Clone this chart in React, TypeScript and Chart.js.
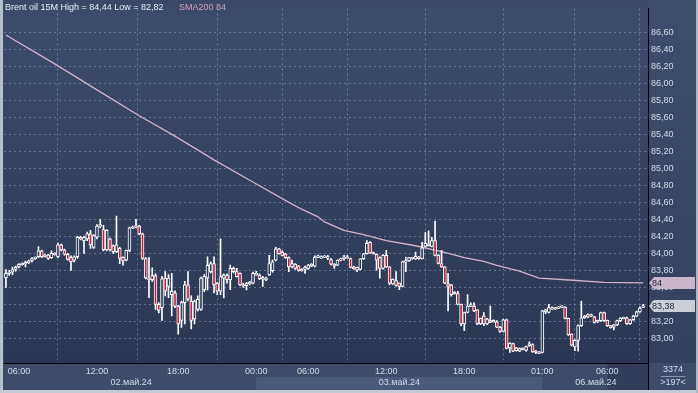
import React, { useEffect, useRef } from "react";
import { Chart, registerables } from "chart.js";

Chart.register(...registerables);

// ---------- data ----------
const instrument = "Brent oil 15M";
const smaName = "SMA200";

const opens = [
  83.71, 83.765, 83.78, 83.81, 83.84, 83.87, 83.88, 83.89, 83.91, 83.94,
  83.96, 84.03, 83.96, 83.98, 83.95, 84.0, 83.96, 84.1, 84.04, 83.99,
  83.955, 83.92, 83.96, 84.19, 84.15, 84.17, 84.23, 84.07, 84.19, 84.32,
  84.28, 84.04, 84.17, 84.09, 84.02, 84.06, 83.955, 83.92, 84.035, 84.3,
  84.31, 84.32, 84.23, 83.94, 83.71, 83.69, 83.74, 83.4, 83.36,
  83.71, 83.61, 83.515, 83.535, 83.38, 83.21, 83.42, 83.63, 83.44, 83.23,
  83.34, 83.34, 83.57, 83.71, 83.785, 83.88, 83.65, 83.555, 83.708, 83.746,
  83.69, 83.823, 83.785, 83.765, 83.63, 83.62, 83.645, 83.65, 83.746, 83.746,
  83.7, 83.69, 83.746, 83.796, 83.92, 84.054, 84.015, 83.996, 83.95, 83.84,
  83.875, 83.85, 83.81, 83.81, 83.823, 83.85, 83.85, 83.958, 83.95, 83.958,
  83.95, 83.927, 83.873, 83.862, 83.919, 83.939, 83.954, 83.939, 83.842, 83.835,
  83.812, 83.939, 83.996, 84.131, 84.008, 83.988, 83.95, 83.823, 83.977, 83.842,
  83.642, 83.681, 83.65, 83.611, 83.9, 83.912, 83.95, 83.935, 83.958, 83.939,
  84.081, 84.112, 84.081, 84.15, 83.977, 83.881, 83.842, 83.642, 83.631, 83.527,
  83.527, 83.4, 83.169, 83.304, 83.381, 83.381, 83.335, 83.169,
  83.265, 83.169, 83.189, 83.208, 83.196, 83.131, 83.081, 83.219, 82.888, 82.938,
  82.854, 82.85, 82.881, 82.858, 82.912, 82.927, 82.85, 82.839, 82.835, 83.312,
  83.304, 83.362, 83.346, 83.354, 83.369, 83.369, 83.235, 83.05, 82.9, 82.977,
  83.15, 83.242, 83.25, 83.277, 83.254, 83.196, 83.208, 83.304, 83.212, 83.15,
  83.131, 83.158, 83.208, 83.239, 83.242, 83.173, 83.219, 83.262, 83.312, 83.365,
];

const highs = [
  83.81, 83.8, 83.84, 83.85, 83.88, 83.89, 83.91, 83.92, 83.95, 83.96,
  84.08, 84.04, 83.99, 83.99, 84.03, 84.01, 84.12, 84.11, 84.05, 84.0,
  83.97, 83.97, 84.2, 84.2, 84.2, 84.25, 84.27, 84.22, 84.34, 84.4,
  84.33, 84.28, 84.18, 84.1, 84.44, 84.07, 83.96, 84.04, 84.31, 84.32,
  84.4, 84.33, 84.24, 83.95, 83.95, 83.83, 83.76, 83.42, 83.73,
  83.785, 83.75, 83.765, 83.56, 83.39, 83.44, 83.67, 83.785, 83.5, 83.45,
  83.5, 83.72, 83.75, 83.96, 83.9, 83.96, 83.66, 84.17, 83.76, 83.76,
  83.862, 83.84, 83.823, 83.77, 83.65, 83.66, 83.67, 83.78, 83.79, 83.76,
  83.73, 83.72, 83.977, 83.92, 84.07, 84.06, 84.03, 84.0, 83.96, 83.92,
  83.88, 83.86, 83.82, 83.85, 83.87, 83.88, 83.97, 83.98, 83.97, 83.975,
  83.977, 83.94, 83.88, 83.925, 83.945, 83.977, 83.977, 83.945, 83.85, 83.84,
  83.94, 84.0, 84.15, 84.14, 84.015, 83.995, 83.96, 83.985, 84.035, 83.845,
  83.7, 83.785, 83.655, 83.91, 83.958, 83.955, 83.955, 84.015, 83.965, 84.131,
  84.246, 84.265, 84.188, 84.381, 83.985, 84.035, 83.845, 83.765, 83.635, 83.55,
  83.554, 83.405, 83.31, 83.515, 83.419, 83.419, 83.34, 83.24,
  83.304, 83.235, 83.381, 83.219, 83.208, 83.142, 83.227, 83.227, 82.95, 82.945,
  82.895, 82.89, 82.89, 82.91, 82.958, 82.935, 82.86, 82.845, 83.33, 83.345,
  83.4, 83.37, 83.365, 83.375, 83.385, 83.375, 83.24, 83.055, 82.985, 83.16,
  83.438, 83.27, 83.29, 83.285, 83.26, 83.215, 83.31, 83.31, 83.215, 83.155,
  83.165, 83.215, 83.245, 83.25, 83.25, 83.225, 83.27, 83.32, 83.37, 83.4,
];

const lows = [
  83.6, 83.74, 83.75, 83.79, 83.83, 83.86, 83.84, 83.88, 83.9, 83.93,
  83.95, 83.95, 83.955, 83.93, 83.94, 83.98, 83.95, 84.03, 83.98, 83.92,
  83.8, 83.9, 83.94, 84.16, 84.0, 84.15, 84.06, 84.06, 84.17, 84.3,
  84.03, 84.03, 84.03, 84.0, 84.01, 83.88, 83.86, 83.91, 84.02, 84.29,
  84.3, 84.22, 83.93, 83.7, 83.48, 83.67, 83.34, 83.3, 83.21,
  83.5, 83.48, 83.265, 83.36, 83.05, 83.13, 83.17, 83.44, 83.11, 83.17,
  83.32, 83.33, 83.55, 83.57, 83.77, 83.535, 83.515, 83.515, 83.477, 83.65,
  83.573, 83.77, 83.72, 83.62, 83.6, 83.57, 83.63, 83.64, 83.74, 83.69,
  83.61, 83.68, 83.74, 83.78, 83.91, 83.99, 83.97, 83.94, 83.785, 83.83,
  83.81, 83.79, 83.79, 83.765, 83.81, 83.845, 83.84, 83.95, 83.94, 83.95,
  83.927, 83.865, 83.823, 83.855, 83.91, 83.919, 83.945, 83.83, 83.81, 83.785,
  83.805, 83.93, 83.99, 84.0, 83.99, 83.804, 83.708, 83.815, 83.835, 83.631,
  83.635, 83.615, 83.573, 83.605, 83.785, 83.905, 83.93, 83.93, 83.93, 83.935,
  84.075, 84.085, 84.075, 83.97, 83.875, 83.835, 83.645, 83.323, 83.496, 83.52,
  83.395, 83.15, 83.092, 83.3, 83.375, 83.315, 83.16, 83.16,
  83.15, 83.16, 83.185, 83.19, 83.125, 83.07, 83.075, 82.875, 82.835, 82.845,
  82.85, 82.845, 82.865, 82.85, 82.905, 82.835, 82.82, 82.82, 82.83, 83.29,
  83.3, 83.34, 83.34, 83.35, 83.36, 83.23, 83.035, 82.91, 82.854, 82.85,
  83.14, 83.235, 83.245, 83.255, 83.18, 83.185, 83.2, 83.2, 83.14, 83.12,
  83.1, 83.15, 83.2, 83.23, 83.165, 83.165, 83.21, 83.255, 83.305, 83.36,
];

const closes = [
  83.765, 83.78, 83.81, 83.84, 83.87, 83.88, 83.89, 83.91, 83.94, 83.955,
  84.03, 83.96, 83.98, 83.94, 84.0, 83.99, 84.1, 84.04, 83.99, 83.93,
  83.9, 83.96, 84.19, 84.17, 84.19, 84.23, 84.1, 84.21, 84.32, 84.34,
  84.04, 84.27, 84.04, 84.02, 84.1, 83.94, 83.91, 84.035, 84.3, 84.31,
  84.32, 84.23, 83.94, 83.71, 83.69, 83.74, 83.4, 83.33, 83.7,
  83.555, 83.71, 83.555, 83.38, 83.17, 83.42, 83.63, 83.46, 83.21, 83.44,
  83.46, 83.71, 83.73, 83.86, 83.88, 83.63, 83.555, 83.727, 83.746, 83.69,
  83.823, 83.785, 83.727, 83.63, 83.62, 83.645, 83.655, 83.765, 83.765, 83.7,
  83.715, 83.71, 83.88, 83.9, 84.054, 83.996, 83.977, 83.95, 83.84, 83.88,
  83.823, 83.8, 83.796, 83.84, 83.862, 83.873, 83.958, 83.965, 83.958, 83.965,
  83.958, 83.873, 83.85, 83.919, 83.939, 83.954, 83.95, 83.835, 83.819, 83.804,
  83.935, 83.996, 84.119, 84.004, 83.996, 83.919, 83.823, 83.977, 83.842, 83.65,
  83.696, 83.623, 83.611, 83.9, 83.912, 83.95, 83.939, 83.966, 83.935, 84.065,
  84.119, 84.092, 84.15, 83.977, 83.881, 83.842, 83.65, 83.611, 83.515, 83.542,
  83.4, 83.169, 83.304, 83.381, 83.389, 83.323, 83.169, 83.235,
  83.169, 83.227, 83.208, 83.196, 83.131, 83.081, 83.219, 82.881, 82.942, 82.85,
  82.888, 82.881, 82.873, 82.904, 82.935, 82.842, 82.835, 82.827, 83.323, 83.335,
  83.362, 83.346, 83.358, 83.369, 83.377, 83.235, 83.042, 82.919, 82.977, 83.15,
  83.242, 83.262, 83.281, 83.265, 83.189, 83.208, 83.304, 83.208, 83.15, 83.127,
  83.158, 83.208, 83.239, 83.242, 83.173, 83.219, 83.262, 83.312, 83.358, 83.381,
];

// SMA200 read at a set of bar positions
const smaIndex = [0, 15, 29, 41, 52, 64, 75, 88, 91, 96, 98, 104, 110, 117, 126, 133, 137, 141, 147, 151, 158, 164, 172, 184, 196];
const smaValues = [86.57, 86.23, 85.9, 85.62, 85.38, 85.1, 84.86, 84.58, 84.52, 84.43, 84.37, 84.27, 84.22, 84.15, 84.09, 84.03, 83.99, 83.95, 83.905, 83.86, 83.79, 83.71, 83.69, 83.66, 83.653];

// time axis
const timeTickIndex = [4, 28, 53, 77, 93, 117, 141, 165, 185];
const timeTickLabels = ["06:00", "12:00", "18:00", "00:00", "06:00", "12:00", "18:00", "01:00", "06:00"];
const dateLabels = ["02.май.24", "03.май.24", "06.май.24"];
const dateIndex = [38.5, 121, 181.5];

// price axis
const priceTicks = [83.0, 83.2, 83.4, 83.6, 83.8, 84.0, 84.2, 84.4, 84.6, 84.8, 85.0, 85.2, 85.4, 85.6, 85.8, 86.0, 86.2, 86.4, 86.6];
const barCountText = "3374";
const visibleBarsText = ">197<";

// ---------- styles ----------
const FONT = '"Liberation Sans", Arial, sans-serif';
const TEXT = "#d3dbe9";
const GRID = "rgba(150,170,210,0.5)";
const RED = "#b8283f";
const HOLLOW = "#2f3c58";
const SMA_COLOR = "#d6b2c8";

const fmt = (v: number) => v.toFixed(2).replace(".", ",");

export default function App() {
  const ref = useRef<HTMLCanvasElement | null>(null);

  useEffect(() => {
    const canvas = ref.current;
    if (!canvas) return;
    const N = closes.length;
    const MIN_BODY = 0.018;
    const bodyData = closes.map((c, i) => {
      let lo = Math.min(opens[i], c);
      let hi = Math.max(opens[i], c);
      if (hi - lo < MIN_BODY) {
        const m = (hi + lo) / 2;
        lo = m - MIN_BODY / 2;
        hi = m + MIN_BODY / 2;
      }
      return { x: i, y: [lo, hi] };
    });
    const bodyFill = closes.map((c, i) => (c >= opens[i] ? HOLLOW : RED));
    const wickData = closes.map((_, i) => ({ x: i, y: [lows[i], highs[i]] }));
    const smaData = smaIndex.map((x, k) => ({ x, y: smaValues[k] }));

    const hi = Math.max(...highs);
    const lo = Math.min(...lows);
    const lastClose = closes[N - 1];
    const lastSma = smaValues[smaValues.length - 1];

    const framePlugin = {
      id: "frame",
      beforeDraw(chart: any) {
        const { ctx, chartArea: a, scales } = chart;
        const W = chart.width;
        const H = chart.height;
        const x = scales.x;
        ctx.save();
        ctx.fillStyle = "#3b4966";
        ctx.fillRect(0, 0, W, H);
        const g = ctx.createLinearGradient(0, a.top, 0, a.bottom);
        g.addColorStop(0, "#3d4c6b");
        g.addColorStop(1, "#2b3752");
        ctx.fillStyle = g;
        ctx.fillRect(a.left, a.top, a.right - a.left, a.bottom - a.top);
        const g2 = ctx.createLinearGradient(0, a.top, 0, a.bottom);
        g2.addColorStop(0, "#3e4d6b");
        g2.addColorStop(1, "#33415d");
        ctx.fillStyle = g2;
        ctx.fillRect(a.right, 0, W - a.right, a.bottom);
        // x-axis strip
        const rowMid = a.bottom + 14;
        const stripBottom = H - 3;
        ctx.fillStyle = "#3e4c69";
        ctx.fillRect(0, a.bottom, W, stripBottom - a.bottom);
        const xa = x.getPixelForValue(timeTickIndex[3]);
        const xb = x.getPixelForValue(timeTickIndex[7]);
        const xc = x.getPixelForValue(timeTickIndex[8]);
        ctx.fillStyle = "#4b5a79";
        ctx.fillRect(xa, rowMid, xb - xa, stripBottom - rowMid);
        ctx.fillStyle = "#323e59";
        ctx.fillRect(xc, a.bottom, a.right - xc, stripBottom - a.bottom);
        // outer frame
        ctx.fillStyle = "#b7bfcb";
        ctx.fillRect(0, 0, 3, H);
        ctx.fillStyle = "#c4cad3";
        ctx.fillRect(0, H - 3, W, 3);
        ctx.fillStyle = "#aeb7c4";
        ctx.fillRect(W - 2, 0, 2, H);
        ctx.restore();
      },
      afterDraw(chart: any) {
        const { ctx, chartArea: a, scales } = chart;
        const x = scales.x;
        const y = scales.y;
        const W = chart.width;
        const H = chart.height;
        ctx.save();
        // axis separator through bottom strip
        ctx.strokeStyle = "#000";
        ctx.lineWidth = 1;
        ctx.beginPath();
        ctx.moveTo(Math.round(a.right) + 0.5, a.bottom);
        ctx.lineTo(Math.round(a.right) + 0.5, H - 3);
        ctx.stroke();

        ctx.font = `9px ${FONT}`;
        ctx.textBaseline = "middle";
        // title
        ctx.textAlign = "left";
        ctx.fillStyle = "#e6ebf3";
        ctx.fillText(`${instrument} High = ${fmt(hi)} Low = ${fmt(lo)}`, 5, 8);
        ctx.fillStyle = "#d39fbe";
        ctx.fillText(`${smaName} ${Math.round(lastSma)}`, 179, 8);

        // date labels
        ctx.textAlign = "center";
        ctx.fillStyle = TEXT;
        dateLabels.forEach((d, k) => {
          ctx.fillText(d, x.getPixelForValue(dateIndex[k]), a.bottom + 20);
        });

        // bar counters
        const cx = (a.right + W) / 2;
        ctx.fillText(barCountText, cx, a.bottom + 7);
        ctx.fillText(visibleBarsText, cx, a.bottom + 20);
        ctx.strokeStyle = "#8797b5";
        ctx.beginPath();
        ctx.moveTo(cx - 12, a.bottom + 13.5);
        ctx.lineTo(cx + 12, a.bottom + 13.5);
        ctx.stroke();

        // price tags
        const tag = (val: number, text: string, fill: string) => {
          const py = Math.round(y.getPixelForValue(val));
          const l = a.right + 1;
          ctx.fillStyle = fill;
          ctx.beginPath();
          ctx.moveTo(l, py);
          ctx.lineTo(l + 5, py - 6);
          ctx.lineTo(W - 3, py - 6);
          ctx.lineTo(W - 3, py + 6);
          ctx.lineTo(l + 5, py + 6);
          ctx.closePath();
          ctx.fill();
          ctx.fillStyle = "#1d2438";
          ctx.textAlign = "left";
          ctx.fillText(text, l + 3, py + 0.5);
        };
        tag(lastSma, `${Math.round(lastSma)}`, "#c9b6ca");
        tag(lastClose, fmt(lastClose), "#c9ced7");
        ctx.restore();
      },
    };

    const chart = new Chart(canvas, {
      type: "bar",
      data: {
        datasets: [
          {
            type: "bar",
            label: "body",
            data: bodyData as any,
            backgroundColor: bodyFill,
            borderColor: "#ffffff",
            borderWidth: 1,
            borderSkipped: false,
            barThickness: 3,
            grouped: false,
            order: 0,
          } as any,
          {
            type: "bar",
            label: "wick",
            data: wickData as any,
            backgroundColor: "#ffffff",
            borderWidth: 0,
            barThickness: 1,
            grouped: false,
            order: 1,
          } as any,
          {
            type: "line",
            label: smaName,
            data: smaData as any,
            borderColor: SMA_COLOR,
            borderWidth: 1.3,
            pointRadius: 0,
            tension: 0,
            order: 2,
          } as any,
        ],
      },
      options: {
        responsive: false,
        animation: false,
        devicePixelRatio: 1,
        events: [],
        layout: { padding: { left: 4, top: 0, right: 0, bottom: 0 } },
        plugins: {
          legend: { display: false },
          tooltip: { enabled: false },
          title: { display: false },
        },
        scales: {
          x: {
            type: "linear",
            position: "bottom",
            min: -0.6,
            max: 197.5,
            offset: false,
            grid: { color: GRID, lineWidth: 1, drawTicks: false },
            border: { display: true, color: "#000000", width: 1, dash: [2, 3] },
            ticks: {
              color: TEXT,
              font: { family: FONT, size: 9 },
              padding: 3,
              maxRotation: 0,
              autoSkip: false,
              callback: (_v: any, i: number) => timeTickLabels[i],
            },
            afterBuildTicks: (s: any) => {
              s.ticks = timeTickIndex.map((v) => ({ value: v }));
            },
            afterFit: (s: any) => {
              s.height = 30;
            },
          },
          y: {
            type: "linear",
            position: "right",
            min: 82.7103,
            max: 86.8828,
            grid: { color: GRID, lineWidth: 1, drawTicks: false },
            border: { display: true, color: "#000000", width: 1, dash: [2, 3] },
            ticks: {
              color: TEXT,
              font: { family: FONT, size: 9 },
              padding: 3,
              callback: (v: any) => fmt(Number(v)),
            },
            afterBuildTicks: (s: any) => {
              s.ticks = priceTicks.map((v) => ({ value: v }));
            },
            afterFit: (s: any) => {
              s.width = 50;
            },
          },
        },
      } as any,
      plugins: [framePlugin],
    });
    return () => chart.destroy();
  }, []);

  return (
    <div style={{ position: "fixed", left: 0, top: 0, width: 698, height: 393 }}>
      <canvas ref={ref} width={698} height={393} style={{ display: "block" }} />
    </div>
  );
}
